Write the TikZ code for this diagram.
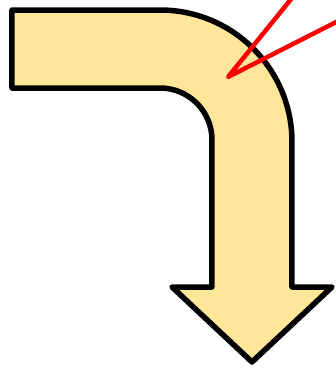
\documentclass[tikz,border=0pt]{standalone}
\definecolor{arrowfill}{RGB}{255,230,153}
\tikzset{
  bentarrow/.style={draw=black, fill=arrowfill, line width=5.5pt, line join=round},
  pointer/.style={draw=red, line width=4.5pt, line join=round}
}
\begin{document}
\begin{tikzpicture}[x=1pt,y=1pt]
\useasboundingbox (0,0) rectangle (336,368);
\clip (0,0) rectangle (336,368);
\path[bentarrow] (12,358) -- (160,358) arc[start angle=90,end angle=0,radius=132]
  -- (292,81) -- (332,81) -- (252,6) -- (172,81) -- (212,81) -- (212,228)
  arc[start angle=0,end angle=90,radius=52] -- (12,280) -- cycle;
\coordinate (tip) at (228,291);
\coordinate (e1) at (296,375);
\coordinate (e2) at (350,353);
\path[pointer] (e1) -- (tip) -- (e2);
\end{tikzpicture}
\end{document}
